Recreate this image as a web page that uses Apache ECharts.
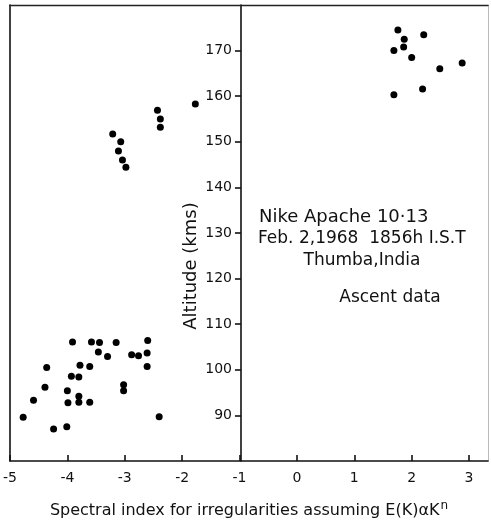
<!DOCTYPE html>
<html>
<head>
<meta charset="utf-8">
<script src="https://cdn.jsdelivr.net/npm/echarts@6/dist/echarts.min.js"></script>
<style>
html,body{margin:0;padding:0;background:#fff;}
#chart{width:491px;height:524px;}
</style>
</head>
<body>
<div id="chart"></div>
<script>
// Lower altitude cluster (90-106 km)
var lowerIndex = [-4.77,-4.59,-4.39,-4.36,-4.24,-4.01,-4.00,-3.99,-3.91,-3.93,-3.80,-3.78,-3.80,-3.80,-3.61,-3.61,-3.58,-3.44,-3.46,-3.30,-3.15,-3.02,-3.02,-2.88,-2.76,-2.60,-2.61,-2.61,-2.40];
var lowerAlt   = [89.6,93.3,96.2,100.5,87.0,87.5,95.4,92.8,106.1,98.6,98.4,101.0,94.2,92.9,100.7,92.9,106.1,106.0,103.9,102.9,106.0,96.7,95.4,103.3,103.1,106.4,103.7,100.7,89.7];
// Middle cluster (144-158 km)
var middleIndex = [-3.21,-3.07,-3.11,-3.04,-2.98,-2.43,-2.38,-2.38,-1.77];
var middleAlt   = [151.7,150.0,148.0,146.0,144.4,156.9,155.0,153.2,158.3];
// Upper cluster (160-175 km)
var upperIndex = [1.76,1.87,2.21,1.86,1.69,2.00,2.88,2.49,2.19,1.69];
var upperAlt   = [174.5,172.5,173.5,170.8,170.0,168.5,167.3,166.0,161.6,160.3];

var xTicks = [-5,-4,-3,-2,-1,0,1,2,3];
var yTicks = [90,100,110,120,130,140,150,160,170];

function pairs(xs, ys){ var o=[]; for(var i=0;i<xs.length;i++){ o.push([xs[i], ys[i]]); } return o; }
var allPoints = pairs(lowerIndex, lowerAlt).concat(pairs(middleIndex, middleAlt)).concat(pairs(upperIndex, upperAlt));

var FONT = 'DejaVu Sans';
var chart = echarts.init(document.getElementById('chart'), null, {renderer:'canvas'});
var lineStyle = {color:'#111', width:1.6};
var yMin = 80, yMax = 180, xMin = -5, xMax = 3.33;
var gridLeft = 7, gridRight = 3, gridW = 491 - gridLeft - gridRight;
var yAxisOffset = -((-1 - xMin) / (xMax - xMin)) * gridW;

chart.setOption({
  animation:false,
  backgroundColor:'#fff',
  grid:{left:gridLeft, right:gridRight, top:5, bottom:61, show:false},
  xAxis:[{
    type:'value', min:xMin, max:xMax, position:'bottom',
    axisLine:{show:true, onZero:false, lineStyle:lineStyle},
    axisTick:{show:true, inside:true, length:6, lineStyle:lineStyle, customValues:xTicks},
    splitLine:{show:false},
    axisLabel:{show:true, margin:10, color:'#111', fontFamily:FONT, fontSize:14, customValues:xTicks},
    name:'{a|Spectral index for irregularities assuming E(K)\u03b1K}{s|n}',
    nameLocation:'middle', nameGap:39,
    nameTextStyle:{rich:{
      a:{fontFamily:FONT, fontSize:16, color:'#111', lineHeight:22},
      s:{fontFamily:FONT, fontSize:12, color:'#111', verticalAlign:'top', padding:[0,0,10,1]}
    }}
  },{
    type:'value', min:xMin, max:xMax, position:'top',
    axisLine:{show:true, onZero:false, lineStyle:{color:'#222', width:1.4}},
    axisTick:{show:false}, axisLabel:{show:false}, splitLine:{show:false}
  }],
  yAxis:[{
    type:'value', min:yMin, max:yMax, position:'left', offset:yAxisOffset,
    axisLine:{show:true, onZero:false, lineStyle:lineStyle},
    axisTick:{show:true, inside:false, length:6, lineStyle:lineStyle, customValues:yTicks},
    splitLine:{show:false},
    axisLabel:{show:true, margin:9, color:'#111', fontFamily:FONT, fontSize:14, customValues:yTicks}
  },{
    type:'value', min:yMin, max:yMax, position:'left', offset:0,
    axisLine:{show:true, onZero:false, lineStyle:lineStyle},
    axisTick:{show:false}, axisLabel:{show:false}, splitLine:{show:false}
  },{
    type:'value', min:yMin, max:yMax, position:'right',
    axisLine:{show:true, onZero:false, lineStyle:{color:'#bbb', width:1}},
    axisTick:{show:false}, axisLabel:{show:false}, splitLine:{show:false}
  }],
  series:[{
    type:'scatter', xAxisIndex:0, yAxisIndex:0,
    data:allPoints, symbol:'circle', symbolSize:7,
    itemStyle:{color:'#000', opacity:1}
  }],
  graphic:[
    {type:'text', rotation:Math.PI/2, x:191, y:266, style:{text:'Altitude (kms)', font:'18px "DejaVu Sans"', fill:'#111', textAlign:'center', textVerticalAlign:'middle'}},
    {type:'text', x:259, y:217, style:{text:'Nike Apache 10\u00b713', font:'18px "DejaVu Sans"', fill:'#111', textAlign:'left', textVerticalAlign:'middle'}},
    {type:'text', x:258, y:239, style:{text:'Feb. 2,1968  1856h I.S.T', font:'17px "DejaVu Sans"', fill:'#111', textAlign:'left', textVerticalAlign:'middle'}},
    {type:'text', x:362, y:261, style:{text:'Thumba,India', font:'17px "DejaVu Sans"', fill:'#111', textAlign:'center', textVerticalAlign:'middle'}},
    {type:'text', x:390, y:298, style:{text:'Ascent data', font:'17px "DejaVu Sans"', fill:'#111', textAlign:'center', textVerticalAlign:'middle'}}
  ]
});
</script>
</body>
</html>
